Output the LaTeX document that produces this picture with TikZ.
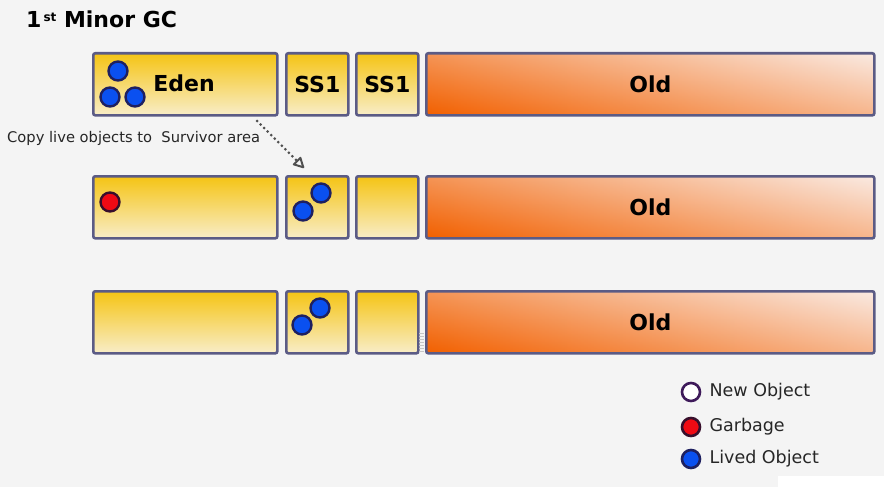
\documentclass[tikz,border=0pt]{standalone}
\usepackage{fontspec}
\setmainfont{DejaVu Sans}
\usetikzlibrary{arrows.meta}
\definecolor{bg}{HTML}{F4F4F4}
\definecolor{ytop}{HTML}{F5C414}
\definecolor{ybot}{HTML}{F8EDC8}
\definecolor{odark}{HTML}{F26000}
\definecolor{opale}{HTML}{FAEAE2}
\definecolor{boxline}{HTML}{5B5B85}
\definecolor{cline}{HTML}{1E2060}
\definecolor{cblue}{HTML}{0A50F0}
\definecolor{cred}{HTML}{F00A14}
\definecolor{arrowgray}{HTML}{505050}
\tikzset{
  x=1pt, y=-1pt,
  membox/.style={draw=boxline, line width=2.6pt, rounded corners=2pt, anchor=north west,
    minimum height=62pt, inner sep=0pt, font=\bfseries\fontsize{22}{22}\selectfont},
  yelbox/.style={membox, top color=ytop, bottom color=ybot},
  oldbox/.style={membox, left color=odark, right color=opale,
    path picture={\shade[top color=opale, bottom color=odark, opacity=0.38]
      (path picture bounding box.south west) rectangle (path picture bounding box.north east);}},
  obj/.style={circle, draw=cline, line width=2.4pt, minimum size=19pt, inner sep=0pt},
  live/.style={obj, fill=cblue},
  garb/.style={obj, fill=cred, draw=cline!70!cred!60!black},
  newobj/.style={obj, fill=white, draw=cline!80!purple},
  legtext/.style={anchor=west, font=\fontsize{17.5}{17.5}\selectfont, text=black!85},
}
\begin{document}
\begin{tikzpicture}
\useasboundingbox (0,0) rectangle (884,487);
\fill[bg] (0,0) rectangle (884,487);
\fill[white] (778,476) rectangle (884,487);

% title
\node[anchor=base west, inner sep=0pt, font=\bfseries\fontsize{22}{22}\selectfont] (title) at (26,28)
  {1\raisebox{6pt}{\fontsize{12}{12}\selectfont\,st} Minor GC};

% row 1
\node[yelbox, minimum width=184pt] (eden1) at (92,52) {};
\node[yelbox, minimum width=62pt] (sa1) at (285,52) {SS1};
\node[yelbox, minimum width=62pt] (sb1) at (355,52) {SS1};
\node[oldbox, minimum width=448pt] (old1) at (425,52) {Old};
\node[font=\bfseries\fontsize{22}{22}\selectfont, inner sep=0pt] (edenlabel) at (184,83) {Eden};
\node[live] (e1a) at (118,71) {};
\node[live] (e1b) at (110,97) {};
\node[live] (e1c) at (135,97) {};

% caption + arrow
\node[anchor=west, inner sep=0pt, font=\fontsize{14.7}{14.7}\selectfont, text=black!85] (copy) at (7,138)
  {Copy live objects to\ \ Survivor area};
\coordinate (arrA) at (257,121);
\coordinate (arrB) at (304,168);
\draw[arrowgray, line width=3pt, line cap=round, dash pattern=on 0pt off 5pt,
  -{Triangle[open, length=12pt, width=12pt, line width=2pt, round]}] (arrA) -- (arrB);

% row 2
\node[yelbox, minimum width=184pt] (eden2) at (92,175) {};
\node[yelbox, minimum width=62pt] (sa2) at (285,175) {};
\node[yelbox, minimum width=62pt] (sb2) at (355,175) {};
\node[oldbox, minimum width=448pt] (old2) at (425,175) {Old};
\node[garb] (g2) at (110,202) {};
\node[live] (s2a) at (321,193) {};
\node[live] (s2b) at (303,211) {};

% row 3
\node[yelbox, minimum width=184pt] (eden3) at (92,290) {};
\node[yelbox, minimum width=62pt] (sa3) at (285,290) {};
\node[yelbox, minimum width=62pt] (sb3) at (355,290) {};
\node[oldbox, minimum width=448pt] (old3) at (425,290) {Old};
\node[live] (s3a) at (320,308) {};
\node[live] (s3b) at (302,325) {};
\foreach \yy in {333,336,...,351} \draw[gray!45, line width=0.8pt] (419,\yy) -- (424,\yy);

% legend
\node[newobj, minimum size=18pt, line width=2.6pt] (lnew) at (691,392) {};
\node[garb, minimum size=18pt, line width=2.6pt] (lgarb) at (691,427) {};
\node[live, minimum size=18pt, line width=2.6pt] (llive) at (691,459) {};
\node[legtext] (tnew) at (706,392) {New Object};
\node[legtext] (tgarb) at (706,427) {Garbage};
\node[legtext] (tlive) at (706,459) {Lived Object};
\end{tikzpicture}
\end{document}
